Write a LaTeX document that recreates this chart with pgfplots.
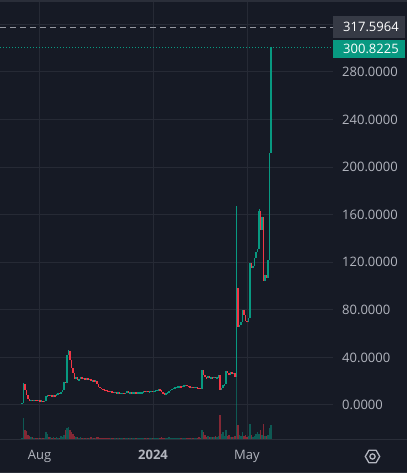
\documentclass[border=0pt]{standalone}
\usepackage{fontspec}
\setmainfont{Open Sans}
\usepackage{pgfplots}
\pgfplotsset{compat=1.18}
\usepackage{pgfplotstable}
\pgfdeclarelayer{bg}
\pgfsetlayers{bg,main}
\definecolor{bgc}{HTML}{161A25}
\definecolor{gridc}{HTML}{262A35}
\definecolor{upc}{HTML}{089981}
\definecolor{dnc}{HTML}{F23645}
\definecolor{labc}{HTML}{B2B5BE}
\definecolor{boxg}{HTML}{363A45}
\definecolor{dashc}{HTML}{9598A1}
\definecolor{sepc}{HTML}{2A2E39}

% x: position, o: open, c: close, v: volume (bar height)
\pgfplotstableread{
x o c v
22.0 1.2 1.6 2
23.5 1.6 17.7 22
25.0 17.7 12.6 10
26.5 12.6 8.5 9
28.0 8.5 5.0 5
29.5 5.0 3.6 4
31.0 3.6 4.2 3
32.5 4.2 3.8 3
34.0 3.8 4.2 2
35.5 4.2 4.0 2
37.0 4.0 3.8 2
38.5 3.8 3.8 2
40.0 3.8 3.4 2
41.5 3.4 3.4 2
43.0 3.4 3.2 2
44.5 3.2 3.2 2
46.0 3.2 7.6 8
47.5 7.6 8.2 6
49.0 8.2 7.8 3
50.5 7.8 8.2 3
52.0 8.2 7.6 2
53.5 7.6 8.0 3
55.0 8.0 7.6 2
56.5 7.6 9.0 3
58.0 9.0 9.8 2
59.5 9.8 9.6 2
61.0 9.6 11.2 4
62.5 11.2 12.6 3
64.0 12.6 19.6 5
65.5 19.6 18.8 10
67.0 18.8 42.0 12
68.5 42.0 45.0 13
70.0 45.0 38.0 10
71.5 38.0 31.0 8
73.0 31.0 26.6 6
74.5 26.6 21.8 4
76.0 21.8 23.8 3
77.5 23.8 21.2 3
79.0 21.2 21.6 2
80.5 21.6 23.2 3
82.0 23.2 22.4 2
83.5 22.4 22.4 2
85.0 22.4 21.8 2
86.5 21.8 22.2 2
88.0 22.2 21.5 2
89.5 21.5 21.5 2
91.0 21.5 19.8 3
92.5 19.8 21.0 2
94.0 21.0 20.0 2
95.5 20.0 20.4 2
97.0 20.4 18.0 3
98.5 18.0 15.2 3
100.0 15.2 14.3 2
101.5 14.3 13.6 2
103.0 13.6 13.2 2
104.5 13.2 12.6 2
106.0 12.6 12.0 2
107.5 12.0 11.8 2
109.0 11.8 11.2 2
110.5 11.2 11.6 2
112.0 11.6 10.9 2
113.5 10.9 10.6 2
115.0 10.6 10.6 2
116.5 10.6 10.3 2
118.0 10.3 10.3 2
119.5 10.3 10.0 2
121.0 10.0 10.0 2
122.5 10.0 10.0 2
124.0 10.0 9.8 2
125.5 9.8 10.0 2
127.0 10.0 11.6 2
128.5 11.6 10.3 2
130.0 10.3 10.3 2
131.5 10.3 10.2 2
133.0 10.2 10.3 2
134.5 10.3 10.3 2
136.0 10.3 10.2 2
137.5 10.2 10.3 2
139.0 10.3 10.3 2
140.5 10.3 10.4 2
142.0 10.4 10.6 2
143.5 10.6 11.8 2
145.0 11.8 11.5 2
146.5 11.5 11.6 2
148.0 11.6 11.2 2
149.5 11.2 11.4 2
151.0 11.4 11.6 2
152.5 11.6 11.4 2
154.0 11.4 11.8 2
155.5 11.8 11.8 2
157.0 11.8 12.6 2
158.5 12.6 13.2 2
160.0 13.2 12.2 2
161.5 12.2 11.0 3
163.0 11.0 9.4 2
164.5 9.4 9.2 2
166.0 9.2 10.0 2
167.5 10.0 10.6 2
169.0 10.6 11.6 3
170.5 11.6 12.8 2
172.0 12.8 13.6 2
173.5 13.6 14.2 2
175.0 14.2 14.6 2
176.5 14.6 15.2 2
178.0 15.2 15.4 2
179.5 15.4 15.6 2
181.0 15.6 15.4 2
182.5 15.4 15.8 2
184.0 15.8 16.4 2
185.5 16.4 16.8 2
187.0 16.8 16.2 2
188.5 16.2 15.4 2
190.0 15.4 15.0 2
191.5 15.0 15.0 2
193.0 15.0 14.8 2
194.5 14.8 14.8 2
196.0 14.8 14.8 2
197.5 14.8 14.4 2
199.0 14.4 14.0 3
200.5 14.0 13.8 2
202.0 13.8 29.4 10
203.5 29.4 25.2 8
205.0 25.2 23.6 5
206.5 23.6 22.6 3
208.0 22.6 24.2 4
209.5 24.2 22.8 3
211.0 22.8 23.4 3
212.5 23.4 22.6 3
214.0 22.6 23.8 3
215.5 23.8 22.8 4
217.0 22.8 23.0 3
218.5 23.0 25.6 4
220.0 25.6 12.2 25
221.5 12.2 14.3 6
223.0 14.3 16.8 8
224.5 16.8 17.4 4
226.0 17.4 28.8 10
227.5 28.8 27.2 4
229.0 27.2 25.6 5
230.5 25.6 27.6 3
232.0 27.6 26.2 3
233.5 26.2 26.8 3
235.0 26.8 23.8 4
236.5 23.8 98.3 63
238.0 98.3 65.5 15
239.5 65.5 67.0 5
241.0 67.0 70.0 4
242.5 70.0 79.8 8
244.0 79.8 75.6 4
245.5 75.6 71.0 5
247.0 71.0 70.0 3
248.5 70.0 73.1 4
250.0 73.1 119.3 16
251.5 119.3 115.0 5
253.0 115.0 116.5 3
254.5 116.5 123.5 4
256.0 123.5 128.6 6
257.5 128.6 131.0 8
259.0 131.0 163.0 6
260.5 163.0 147.0 10
262.0 147.0 158.0 5
263.5 158.0 104.0 16
265.0 104.0 109.2 4
266.5 109.2 106.5 4
268.0 106.5 122.0 5
269.5 122.0 211.8 12
271.0 211.8 300.8225 15
}\candles

\pgfplotstableread{
x l h
23.5 1.6 18.2
68.5 42.0 46.5
236.5 23.8 167.2
259.0 131.0 164.5
}\wicks

\begin{document}
\begin{tikzpicture}[x=1bp,y=1bp]
\begin{axis}[name=price, at={(0,0)}, anchor=south west, scale only axis,
  width=333bp, height=438bp,
  xmin=0, xmax=333, ymin=-29.43, ymax=338.86,
  axis line style={draw=none}, major tick length=0pt,
  xtick={39.5,153,247}, xticklabels={Aug,\textbf{2024},May},
  ytick={0,40,...,320},
  yticklabels={0.0000,40.0000,80.0000,120.0000,160.0000,200.0000,240.0000,280.0000,{}},
  yticklabel pos=right,
  grid=major, grid style={gridc, line width=1bp},
  tick label style={font=\fontsize{13bp}{15bp}\selectfont, text=labc, inner sep=0pt},
  xticklabel style={anchor=base, yshift=-19.5bp},
  yticklabel style={anchor=west, xshift=9bp}]
% volume bars, from the bottom of the plot
\addplot[draw=none, mark=none, error bars/.cd, y dir=both, y explicit, error mark=none,
  error bar style={draw=upc, draw opacity=0.5, line width=1.2bp, line cap=butt}]
  table[x=x, y expr={-29.43+(1-(\thisrow{c}<\thisrow{o}))*\thisrow{v}/2.3786},
    y error expr={(1-(\thisrow{c}<\thisrow{o}))*\thisrow{v}/2.3786}] {\candles};
\addplot[draw=none, mark=none, error bars/.cd, y dir=both, y explicit, error mark=none,
  error bar style={draw=dnc, draw opacity=0.5, line width=1.2bp, line cap=butt}]
  table[x=x, y expr={-29.43+(\thisrow{c}<\thisrow{o})*\thisrow{v}/2.3786},
    y error expr={(\thisrow{c}<\thisrow{o})*\thisrow{v}/2.3786}] {\candles};
% price lines
\addplot[dashc, line width=1bp, dash pattern=on 6bp off 4bp] coordinates {(0,317.5964) (333,317.5964)};
\addplot[upc, line width=1bp, dash pattern=on 1bp off 2bp] coordinates {(0,300.8225) (333,300.8225)};
% wicks
\addplot[draw=none, mark=none, error bars/.cd, y dir=both, y explicit, error mark=none,
  error bar style={draw=upc, line width=0.9bp, line cap=butt}]
  table[x=x, y expr={(\thisrow{l}+\thisrow{h})/2}, y error expr={(\thisrow{h}-\thisrow{l})/2}] {\wicks};
% candle bodies
\addplot[draw=none, mark=none, error bars/.cd, y dir=both, y explicit, error mark=none,
  error bar style={draw=dnc, line width=1.6bp, line cap=butt}]
  table[x=x, y expr={(\thisrow{o}+\thisrow{c})/2},
    y error expr={(\thisrow{c}<\thisrow{o})*max(abs(\thisrow{c}-\thisrow{o})/2,0.45)}] {\candles};
\addplot[draw=none, mark=none, error bars/.cd, y dir=both, y explicit, error mark=none,
  error bar style={draw=upc, line width=1.6bp, line cap=butt}]
  table[x=x, y expr={(\thisrow{o}+\thisrow{c})/2},
    y error expr={(1-(\thisrow{c}<\thisrow{o}))*max(abs(\thisrow{c}-\thisrow{o})/2,0.45)}] {\candles};
\end{axis}

% overlays in pixel coordinates: (px, 440-py) relative to the plot's lower left corner
\begin{scope}[shift={(price.south west)}]
\begin{pgfonlayer}{bg}
\fill[bgc] (0,-33) rectangle (407,440);
\fill[sepc] (0,438) rectangle (407,440);
\fill[sepc] (0,-33) rectangle (407,-32);
\end{pgfonlayer}
\draw[sepc, line width=1bp] (0,0) -- (407,0);
\fill[boxg] (333,402) rectangle (405,424.3);
\node[anchor=west, inner sep=0pt, text=white, font=\fontsize{13bp}{15bp}\selectfont] at (343,413) {317.5964};
\fill[upc] (333,382.3) rectangle (405,400.3);
\node[anchor=west, inner sep=0pt, text=white, font=\fontsize{13bp}{15bp}\selectfont] at (343,391.3) {300.8225};
\draw[labc, line width=1.3bp, line join=round] (372.5,-16.5) +(0:7.2) -- +(60:7.2) -- +(120:7.2) -- +(180:7.2) -- +(240:7.2) -- +(300:7.2) -- cycle;
\draw[labc, line width=1.3bp] (372.5,-16.5) circle (2.6);
\pgfresetboundingbox
\useasboundingbox (0,-33) rectangle (407,440);
\end{scope}
\end{tikzpicture}
\end{document}
